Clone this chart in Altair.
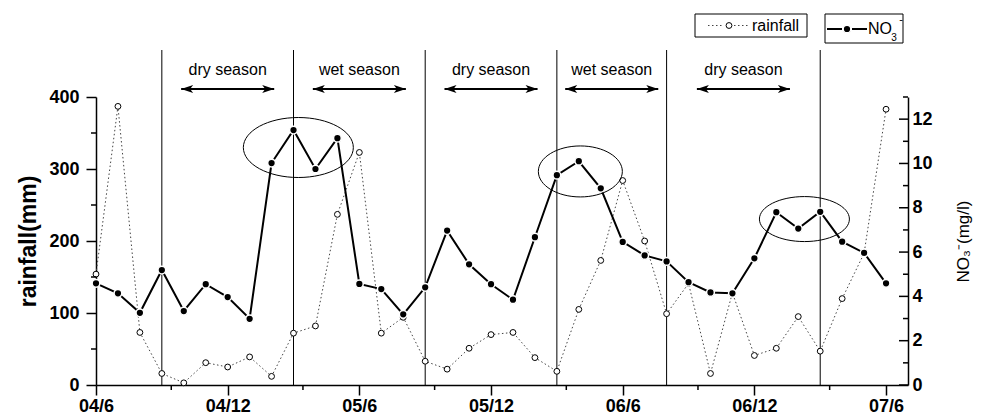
import altair as alt
import pandas as pd

# ---------------- data ----------------
months = ["04/6", "04/7", "04/8", "04/9", "04/10", "04/11", "04/12",
          "05/1", "05/2", "05/3", "05/4", "05/5", "05/6", "05/7", "05/8", "05/9", "05/10", "05/11", "05/12",
          "06/1", "06/2", "06/3", "06/4", "06/5", "06/6", "06/7", "06/8", "06/9", "06/10", "06/11", "06/12",
          "07/1", "07/2", "07/3", "07/4", "07/5", "07/6"]
rainfall = [154, 387, 73, 16, 3, 31, 25, 39, 12, 72, 82, 237, 323, 72, 94, 33, 22, 51, 70, 73, 38, 19,
            105, 173, 284, 200, 99, 141, 16, 128, 41, 51, 95, 47, 120, 183, 383]
no3 = [4.59, 4.14, 3.26, 5.19, 3.34, 4.55, 3.97, 2.99, 10.02, 11.51, 9.75, 11.14, 4.56, 4.33, 3.19, 4.41,
       6.97, 5.45, 4.55, 3.85, 6.67, 9.47, 10.10, 8.88, 6.46, 5.85, 5.58, 4.64, 4.18, 4.14, 5.72, 7.80,
       7.06, 7.82, 6.47, 5.96, 4.59]
season_bounds = ["04/9", "05/3", "05/9", "06/3", "06/8", "07/3"]
season_names = ["dry season", "wet season", "dry season", "wet season", "dry season"]
tick_labels = ["04/6", "04/12", "05/6", "05/12", "06/6", "06/12", "07/6"]
highlight_month = [9.22, 22.07, 32.28]
highlight_no3 = [10.72, 9.64, 7.49]

# ---------------- style ----------------
FONT = "Liberation Sans"
W, H = 812, 288
X_DOMAIN = [0, 37]
RAIN_DOMAIN = [0, 400]
NO3_DOMAIN = [0, 13]
ELLIPSE_R = [(55, 30), (42, 25.5), (45, 22.5)]   # pixel radii
ARROW_HALF = 2.12                                  # months
LINE_TOP = -47
TEXT_Y = -27
ARROW_Y = -8

idx = {m: i for i, m in enumerate(months)}
df = pd.DataFrame({"month": months, "t": list(range(len(months))), "rainfall": rainfall, "no3": no3})
bt = [idx[b] for b in season_bounds]
bounds_df = pd.DataFrame({"t": bt})
seasons_df = pd.DataFrame({"mid": [(bt[i] + bt[i + 1]) / 2 for i in range(len(season_names))],
                           "name": season_names})


def ellipse_path(rx, ry):
    k = ry / rx
    return f"M -1 0 A 1 {k:.4f} 0 1 1 1 0 A 1 {k:.4f} 0 1 1 -1 0 Z"


ell_df = pd.DataFrame({"t": highlight_month, "no3": highlight_no3,
                       "shape": [ellipse_path(rx, ry) for rx, ry in ELLIPSE_R],
                       "size": [(2 * rx) ** 2 for rx, ry in ELLIPSE_R]})
one = pd.DataFrame({"k": [0]})

label_arr = "[" + ",".join(f"'{s}'" for s in tick_labels) + "]"

xscale = alt.Scale(domain=X_DOMAIN, nice=False, zero=False)
rscale = alt.Scale(domain=RAIN_DOMAIN, nice=False)
nscale = alt.Scale(domain=NO3_DOMAIN, nice=False)

x_axis = alt.Axis(values=[0, 6, 12, 18, 24, 30, 36], labelExpr=f"{label_arr}[round(datum.value/6)]",
                  title=None, grid=False, tickSize=10, tickWidth=1.5, domainWidth=1.5,
                  domainColor="black", tickColor="black", labelFont=FONT, labelFontSize=18,
                  labelFontWeight="bold", labelColor="black", labelPadding=2, labelFlush=False)


def X(field):
    return alt.X(field, scale=xscale, axis=x_axis, title=None)


left_axis = alt.Axis(orient="left", values=[0, 100, 200, 300, 400], grid=False, tickSize=10, tickWidth=1.5,
                     domainWidth=1.5, domainColor="black", tickColor="black", labelFont=FONT,
                     labelFontSize=18, labelFontWeight="bold", labelColor="black", labelPadding=7,
                     title="rainfall(mm)", titleFont=FONT, titleFontSize=23, titleFontWeight="bold",
                     titleColor="black", titleX=-68, titleY=144, titleAngle=270, titleAlign="center",
                     titleBaseline="middle")
right_axis = alt.Axis(orient="right", values=[0, 2, 4, 6, 8, 10, 12], grid=False, ticks=False,
                      domainWidth=1.5, domainColor="black", labelFont=FONT, labelFontSize=18,
                      labelFontWeight="bold", labelColor="black", labelPadding=4,
                      title="NO\u2083\u207b(mg/l)", titleFont=FONT, titleFontSize=17,
                      titleFontWeight="normal", titleColor="black", titleX=55, titleY=144,
                      titleAngle=270, titleAlign="center", titleBaseline="middle")

# season boundaries
bound_lines = alt.Chart(bounds_df).mark_rule(color="black", strokeWidth=1).encode(
    x=X("t:Q"), y=alt.value(LINE_TOP), y2=alt.value(H))

season_text = alt.Chart(seasons_df).mark_text(font=FONT, fontSize=16, color="black", baseline="middle",
                                              align="center").encode(
    x=X("mid:Q"), y=alt.value(TEXT_Y), text="name:N")

arrow_base = alt.Chart(seasons_df).transform_calculate(
    start=f"datum.mid - {ARROW_HALF}", end=f"datum.mid + {ARROW_HALF}")
arrow_shaft = arrow_base.mark_rule(color="black", strokeWidth=2).encode(
    x=X("start:Q"), x2="end:Q", y=alt.value(ARROW_Y))
head_r = arrow_base.mark_point(shape="M 0 0 L -2 -0.65 L -1.5 0 L -2 0.65 Z", filled=True, color="black",
                               size=144, opacity=1, strokeWidth=0).encode(
    x=X("end:Q"), y=alt.value(ARROW_Y))
head_l = arrow_base.mark_point(shape="M 0 0 L 2 -0.65 L 1.5 0 L 2 0.65 Z", filled=True, color="black",
                               size=144, opacity=1, strokeWidth=0).encode(
    x=X("start:Q"), y=alt.value(ARROW_Y))

# rainfall
rain_line = alt.Chart(df).mark_line(color="#444444", strokeWidth=1, strokeDash=[1.5, 2.5]).encode(
    x=X("t:Q"), y=alt.Y("rainfall:Q", scale=rscale, axis=left_axis))
rain_pts = alt.Chart(df).mark_point(shape="circle", filled=True, fill="white", stroke="black",
                                    strokeWidth=1, size=34, opacity=1).encode(
    x=X("t:Q"), y=alt.Y("rainfall:Q", scale=rscale, axis=None))

# NO3
no3_line = alt.Chart(df).mark_line(color="black", strokeWidth=2).encode(
    x=X("t:Q"), y=alt.Y("no3:Q", scale=nscale, axis=right_axis))
no3_pts = alt.Chart(df).mark_point(shape="circle", filled=True, fill="black", stroke="white",
                                   strokeWidth=1.5, size=60, opacity=1).encode(
    x=X("t:Q"), y=alt.Y("no3:Q", scale=nscale, axis=None))

ellipses = alt.Chart(ell_df).mark_point(filled=False, stroke="black", strokeWidth=1, opacity=1).encode(
    x=X("t:Q"), y=alt.Y("no3:Q", scale=nscale, axis=None),
    shape=alt.Shape("shape:N", scale=None), size=alt.Size("size:Q", scale=None))

# minor / inward ticks
x_minor = alt.Chart(pd.DataFrame({"t": [6 * k + 3.43 for k in range(6)]})).mark_rule(
    color="black", strokeWidth=1.5).encode(x=X("t:Q"), y=alt.value(H), y2=alt.value(H + 5))
l_minor = alt.Chart(pd.DataFrame({"v": [50, 150, 250, 350]})).mark_rule(
    color="black", strokeWidth=1.5).encode(y=alt.Y("v:Q", scale=rscale, axis=None),
                                           x=alt.value(-5), x2=alt.value(0))
r_major = alt.Chart(pd.DataFrame({"v": [0, 2, 4, 6, 8, 10, 12]})).mark_rule(
    color="black", strokeWidth=1.5).encode(y=alt.Y("v:Q", scale=nscale, axis=None),
                                           x=alt.value(W - 9), x2=alt.value(W))
r_minor = alt.Chart(pd.DataFrame({"v": [1, 3, 5, 7, 9, 11, 13]})).mark_rule(
    color="black", strokeWidth=1.5).encode(y=alt.Y("v:Q", scale=nscale, axis=None),
                                           x=alt.value(W - 5), x2=alt.value(W))

# legend
lg = alt.Chart(one)
box1 = lg.mark_rect(fill="white", stroke="black", strokeWidth=1).encode(
    x=alt.value(599), x2=alt.value(711), y=alt.value(-83), y2=alt.value(-60))
l1a = lg.mark_rule(color="#444444", strokeWidth=1, strokeDash=[1.5, 2.5]).encode(
    x=alt.value(612), x2=alt.value(628), y=alt.value(-71.5))
l1b = lg.mark_rule(color="#444444", strokeWidth=1, strokeDash=[1.5, 2.5]).encode(
    x=alt.value(638), x2=alt.value(652), y=alt.value(-71.5))
l1c = lg.mark_point(shape="circle", filled=True, fill="white", stroke="black", strokeWidth=1,
                    size=34, opacity=1).encode(x=alt.value(633), y=alt.value(-71.5))
l1t = lg.mark_text(text="rainfall", font=FONT, fontSize=16, align="left", baseline="middle",
                   color="black").encode(x=alt.value(656), y=alt.value(-71))
box2 = lg.mark_rect(fill="white", stroke="black", strokeWidth=1).encode(
    x=alt.value(729), x2=alt.value(807), y=alt.value(-83), y2=alt.value(-54))
l2a = lg.mark_rule(color="black", strokeWidth=2).encode(x=alt.value(731), x2=alt.value(746), y=alt.value(-68))
l2b = lg.mark_rule(color="black", strokeWidth=2).encode(x=alt.value(756), x2=alt.value(771), y=alt.value(-68))
l2c = lg.mark_point(shape="circle", filled=True, fill="black", stroke="white", strokeWidth=1.5,
                    size=60, opacity=1).encode(x=alt.value(751), y=alt.value(-68))
l2t = lg.mark_text(text="NO", font=FONT, fontSize=16, align="left", baseline="middle",
                   color="black").encode(x=alt.value(772), y=alt.value(-68))
l2s = lg.mark_text(text="3", font=FONT, fontSize=10, align="center", baseline="middle",
                   color="black").encode(x=alt.value(798), y=alt.value(-59))
l2p = lg.mark_text(text="-", font=FONT, fontSize=11, align="center", baseline="middle",
                   color="black").encode(x=alt.value(805), y=alt.value(-77))

chart = alt.layer(
    bound_lines, rain_line, rain_pts, no3_line, no3_pts, ellipses,
    season_text, arrow_shaft, head_r, head_l,
    x_minor, l_minor, r_major, r_minor,
    box1, l1a, l1b, l1c, l1t, box2, l2a, l2b, l2c, l2t, l2s, l2p
).resolve_scale(y="independent").properties(
    width=W, height=H,
    padding={"left": 88, "top": 89, "right": 68, "bottom": 33},
    autosize=alt.AutoSizeParams(type="none"),
    background="white",
).configure_view(stroke=None)

chart.save("out.html", embed_options={"renderer": "svg", "actions": False})
